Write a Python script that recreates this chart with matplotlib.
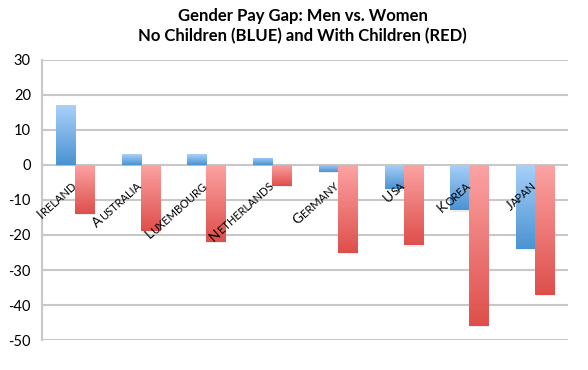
import numpy as np
import matplotlib
matplotlib.use('Agg')
import matplotlib.pyplot as plt
from matplotlib.colors import LinearSegmentedColormap
from matplotlib.textpath import TextPath
from matplotlib.font_manager import FontProperties

countries = ['Ireland', 'Australia', 'Luxembourg', 'Netherlands',
             'Germany', 'USA', 'Korea', 'Japan']
no_children = [17, 3, 3, 2, -2, -7, -13, -24]
with_children = [-14, -19, -22, -6, -25, -23, -46, -37]
y_ticks = [30, 20, 10, 0, -10, -20, -30, -40, -50]

plt.rcParams['font.family'] = ['Lato', 'DejaVu Sans']

blue_map = LinearSegmentedColormap.from_list('b', ['#a9d0f9', '#4a93d2'])
red_map = LinearSegmentedColormap.from_list('r', ['#fca3a3', '#de4f4b'])

fig = plt.figure(figsize=(5.88, 3.70), dpi=100)
ax = fig.add_axes([0.0714, 0.081, 0.8946, 0.757])

x = np.arange(len(countries))
w = 0.29
grad = np.linspace(0, 1, 100).reshape(-1, 1)


def grad_bars(xs, vals, cmap):
    bars = ax.bar(xs, vals, w, facecolor='none', edgecolor='none', zorder=3)
    for b in bars:
        x0, y0 = b.get_x(), b.get_y()
        bw, bh = b.get_width(), b.get_height()
        lo, hi = min(y0, y0 + bh), max(y0, y0 + bh)
        # soft shadow under the bar
        ax.bar(x0 + bw / 2 + 0.015, hi - lo, bw, bottom=lo - 0.3,
               color='#000000', alpha=0.07, linewidth=0, zorder=2)
        im = ax.imshow(grad, cmap=cmap, extent=[x0, x0 + bw, lo, hi],
                       origin='upper', aspect='auto', zorder=3)
        im.set_clip_path(b)


grad_bars(x - w / 2, no_children, blue_map)
grad_bars(x + w / 2, with_children, red_map)

ax.set_xlim(-0.5, len(countries) - 0.5)
ax.set_ylim(-50, 30)
ax.set_yticks(y_ticks)
ax.set_yticklabels([str(t) for t in y_ticks], fontsize=10.5)
ax.tick_params(axis='y', length=0, pad=8)
ax.set_xticks([])
ax.grid(axis='y', color='#c8c8c8', linewidth=1.5, zorder=0)
ax.set_axisbelow(True)
for s in ['top', 'right', 'bottom']:
    ax.spines[s].set_visible(False)
ax.spines['left'].set_color('#c8c8c8')
ax.spines['left'].set_linewidth(1.5)

# small caps labels: big first letter, smaller rest
ang = 42
small, big = 8, 10
fp = FontProperties(family='Lato', size=small)
for xi, name in zip(x, countries):
    rest = name[1:].upper()
    rest_w = TextPath((0, 0), rest, prop=fp).get_extents().x1  # in points
    ax.annotate(rest, xy=(xi + 0.03, -6.3), ha='right', va='baseline',
                rotation=ang, rotation_mode='anchor', fontsize=small, zorder=5)
    dx = -(rest_w + 0.4) * np.cos(np.radians(ang))
    dy = -(rest_w + 0.4) * np.sin(np.radians(ang))
    ax.annotate(name[0].upper(), xy=(xi + 0.03, -6.3), xytext=(dx, dy),
                textcoords='offset points', ha='right', va='baseline',
                rotation=ang, rotation_mode='anchor', fontsize=big, zorder=5)

fig.text(0.515, 0.957, 'Gender Pay Gap: Men vs. Women', ha='center', va='center',
         fontsize=12, fontweight='bold')
fig.text(0.515, 0.902, 'No Children (BLUE) and With Children (RED)', ha='center',
         va='center', fontsize=12, fontweight='bold')

fig.savefig('out.png', dpi=100)
